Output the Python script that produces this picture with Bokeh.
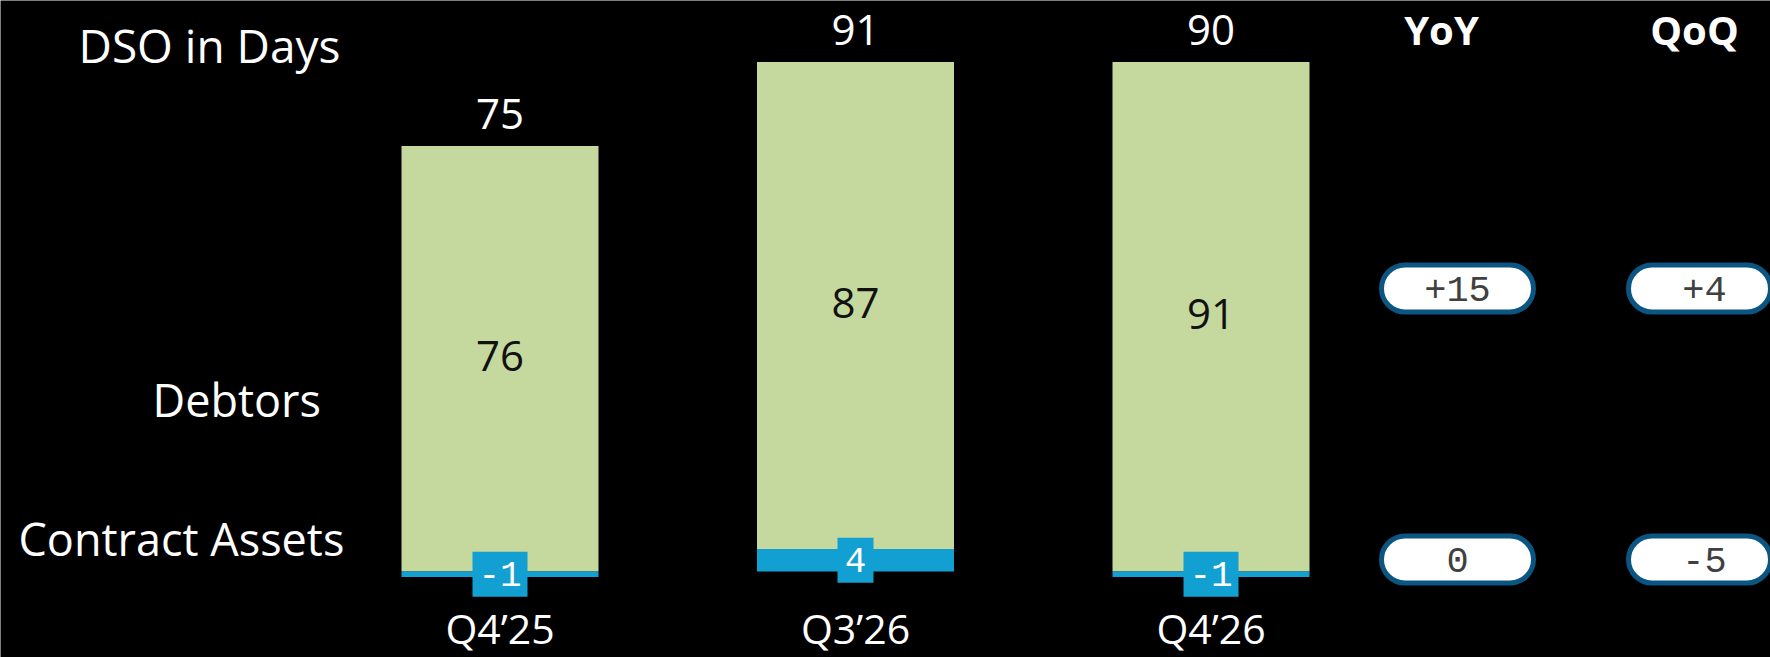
from bokeh.plotting import figure
from bokeh.models import Range1d, Label
from bokeh.embed import file_html
from bokeh.resources import INLINE
from bokeh.core.properties import value

# ---------------- data ----------------
quarters = ["Q4’25", "Q3’26", "Q4’26"]
dso_total = [75, 91, 90]
debtors = [76, 87, 91]
contract_assets = [-1, 4, -1]
change_headers = ["YoY", "QoQ"]
debtors_change = ["+15", "+4"]
contract_change = ["0", "-5"]
row_labels = ["Debtors", "Contract Assets"]
title_text = "DSO in Days"

# ---------------- layout / style ----------------
W, H = 1770, 657
PX_PER_X = 355.5          # pixels per x unit (bar spacing)
PX_PER_Y = 5.6            # pixels per day
ZERO_PX = 571             # zero line, pixels from top
X0 = 1 - 499.5 / PX_PER_X


def fx(px):
    return X0 + px / PX_PER_X


def fy(px):
    return (ZERO_PX - px) / PX_PER_Y


GREEN = "#C5D89E"
BLUE = "#12A0D2"
PILL_LINE = "#0B5583"
PILL_TEXT = "#404040"
FONT = "Open Sans"
MONO = "Liberation Mono"

bar_x = [1, 2, 3]
BAR_W = 197 / PX_PER_X
col_x = [fx(1457), fx(1704)]
row_y = [fy(288), fy(559)]

p = figure(width=W, height=H,
           x_range=Range1d(X0, X0 + W / PX_PER_X),
           y_range=Range1d(-(H - ZERO_PX) / PX_PER_Y, ZERO_PX / PX_PER_Y),
           x_axis_type=None, y_axis_type=None,
           output_backend="svg", toolbar_location=None,
           min_border=0, background_fill_color="black",
           border_fill_color="black", outline_line_color=None)
p.grid.visible = False

# stacked bars
green_bottom = [max(c, 0) for c in contract_assets]
green_top = [b + d for b, d in zip(green_bottom, debtors)]
p.vbar(x=bar_x, bottom=green_bottom, top=green_top, width=BAR_W,
       fill_color=GREEN, line_color=None)
p.vbar(x=bar_x, bottom=0, top=contract_assets, width=BAR_W,
       fill_color=BLUE, line_color=None)

# debtors labels inside bars
p.text(x=bar_x, y=[(b + t) / 2 + 0.5 for b, t in zip(green_bottom, green_top)],
       text=[str(d) for d in debtors], text_align="center", text_baseline="middle",
       text_font=value(FONT), text_font_size="42px", text_color="#111111")

# contract asset labels in blue boxes
ca_text = [str(c) for c in contract_assets]
p.rect(x=bar_x, y=[c / 2 for c in contract_assets],
       width=[17 + 19 * len(s) for s in ca_text], height=45,
       width_units="screen", height_units="screen",
       fill_color=BLUE, line_color=None)
p.text(x=bar_x, y=[c / 2 for c in contract_assets], text=ca_text,
       text_align="center", text_baseline="middle",
       text_font=value(MONO), text_font_size="36px", text_color="white")

# totals above bars
p.text(x=bar_x, y=[t + 32 / PX_PER_Y for t in green_top],
       text=[str(v) for v in dso_total], text_align="center", text_baseline="middle",
       text_font=value(FONT), text_font_size="42px", text_color="white")

# category labels
p.text(x=bar_x, y=[fy(627)] * 3, text=quarters, text_align="center",
       text_baseline="middle", text_font=value(FONT), text_font_size="41px",
       text_color="white")

# change pills
PILL_H = 47 / PX_PER_Y
pill_x = col_x + col_x
pill_y = [row_y[0]] * 2 + [row_y[1]] * 2
pill_t = debtors_change + contract_change
p.vbar(x=pill_x, bottom=[y - PILL_H / 2 for y in pill_y],
       top=[y + PILL_H / 2 for y in pill_y], width=152 / PX_PER_X,
       fill_color="white", line_color=PILL_LINE, line_width=5, border_radius=24)
p.text(x=pill_x, y=pill_y, text=pill_t, text_align="center", text_baseline="middle",
       text_font=value(MONO), text_font_size="37px", text_color=PILL_TEXT)

# headers
for hx, htxt in zip([1441, 1694], change_headers):
    p.add_layout(Label(x=hx, y=H - 29, x_units="screen", y_units="screen",
                       text=htxt, text_align="center", text_baseline="middle",
                       text_font=FONT, text_font_style="bold",
                       text_font_size="40px", text_color="white"))

p.add_layout(Label(x=78, y=H - 44, x_units="screen", y_units="screen",
                   text=title_text, text_align="left", text_baseline="middle",
                   text_font=FONT, text_font_size="46px", text_color="white"))
for lx, ly, txt in zip([152, 18], [H - 399, H - 538], row_labels):
    p.add_layout(Label(x=lx, y=ly, x_units="screen", y_units="screen",
                       text=txt, text_align="left", text_baseline="middle",
                       text_font=FONT, text_font_size="45px", text_color="white"))

html = file_html(p, INLINE, title="DSO in Days")
html = html.replace("<body>", '<body style="background-color:#000000;">', 1)
open("out.html", "w").write(html)
